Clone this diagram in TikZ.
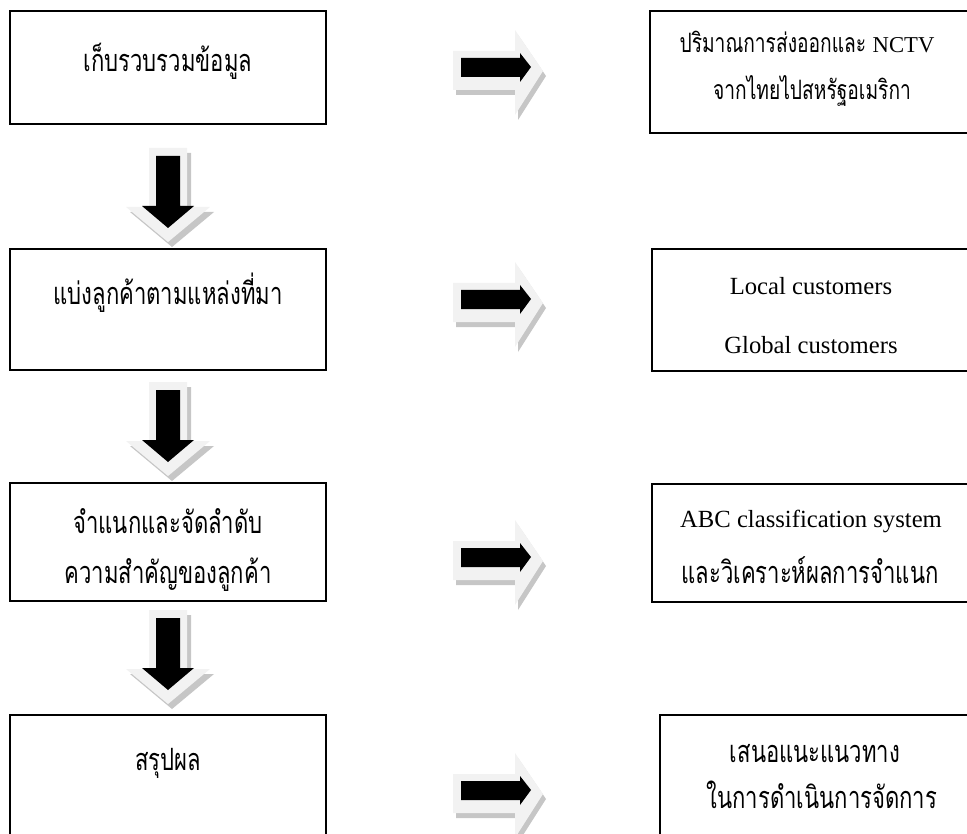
\documentclass[tikz,border=0pt]{standalone}
\usepackage{fontspec}
\setmainfont{Liberation Serif}
\newfontfamily\thai[Script=Thai,FakeStretch=0.72]{Loma}
\tikzset{
  boxline/.style={draw=black, line width=1.4pt},
  lgray/.style={fill=gray!10, draw=none},
  dgray/.style={fill=gray!45, draw=none},
  blk/.style={fill=black, draw=none},
  ltxt/.style={anchor=base, font=\thai\fontsize{23}{26}\selectfont, inner sep=0pt},
  rtxt/.style={anchor=base, font=\thai\fontsize{23}{26}\selectfont, inner sep=0pt},
  rtxtsmall/.style={anchor=base, font=\thai\fontsize{20}{24}\selectfont, inner sep=0pt},
  etxt/.style={anchor=base, font=\fontsize{18.5}{22}\selectfont, inner sep=0pt}
}
\newcommand{\RArrowAt}[1]{%
  \begin{scope}[shift={(0,#1)}]
    \fill[dgray,shift={(3,5)}] (453,-16) -- (515,-16) -- (515,-37) -- (543,4) -- (515,48) -- (515,23) -- (453,23) -- cycle;
    \fill[lgray] (453,-16) -- (515,-16) -- (515,-37) -- (543,4) -- (515,48) -- (515,23) -- (453,23) -- cycle;
    \fill[blk] (461,-9) -- (520,-9) -- (520,-14) -- (531,0) -- (520,15) -- (520,10) -- (461,10) -- cycle;
  \end{scope}}
\newcommand{\DArrowAt}[1]{%
  \begin{scope}[shift={(0,#1)}]
    \fill[dgray,shift={(4,5)}] (149,0) -- (187,0) -- (187,59) -- (210,59) -- (168,94) -- (126,59) -- (149,59) -- cycle;
    \fill[lgray] (149,0) -- (187,0) -- (187,59) -- (210,59) -- (168,94) -- (126,59) -- (149,59) -- cycle;
    \fill[blk] (156,8) -- (180,8) -- (180,58) -- (194,58) -- (168,80) -- (142,58) -- (156,58) -- cycle;
  \end{scope}}
\begin{document}
\begin{tikzpicture}[x=0.75pt,y=-0.75pt]
\useasboundingbox (0,0) rectangle (967,834);
% left boxes
\draw[boxline] (10,11) rectangle (326,124);
\draw[boxline] (10,249) rectangle (326,370);
\draw[boxline] (10,483) rectangle (326,601);
\draw[boxline] (10,715) rectangle (326,850);
% right boxes
\draw[boxline] (650,11) rectangle (980,133);
\draw[boxline] (652,249) rectangle (980,371);
\draw[boxline] (652,484) rectangle (980,602);
\draw[boxline] (660,715) rectangle (980,850);
% left texts
\node[ltxt] (l1) at (168,72) {เก็บรวบรวมข้อมูล};
\node[ltxt] (l2) at (168,305) {แบ่งลูกค้าตามแหล่งที่มา};
\node[ltxt] (l3a) at (168,533) {จำแนกและจัดลำดับ};
\node[ltxt] (l3b) at (168,583) {ความสำคัญของลูกค้า};
\node[ltxt] (l4) at (168,770) {สรุปผล};
% right texts
\node[rtxtsmall] (r1a) at (807,53) {ปริมาณการส่งออกและ {\rmfamily\fontsize{17}{19}\selectfont NCTV}};
\node[rtxtsmall] (r1b) at (812,100) {จากไทยไปสหรัฐอเมริกา};
\node[etxt] (r2a) at (811,295) {Local customers};
\node[etxt] (r2b) at (811,353) {Global customers};
\node[etxt] (r3a) at (811,527) {ABC classification system};
\node[rtxt] (r3b) at (810,583) {และวิเคราะห์ผลการจำแนก};
\node[rtxt] (r4a) at (815,762) {เสนอแนะแนวทาง};
\node[rtxt] (r4b) at (822,808) {ในการดำเนินการจัดการ};
% right arrows
\RArrowAt{67}
\RArrowAt{299}
\RArrowAt{557}
\RArrowAt{790}
% down arrows
\DArrowAt{148}
\DArrowAt{382}
\DArrowAt{610}
\end{tikzpicture}
\end{document}
